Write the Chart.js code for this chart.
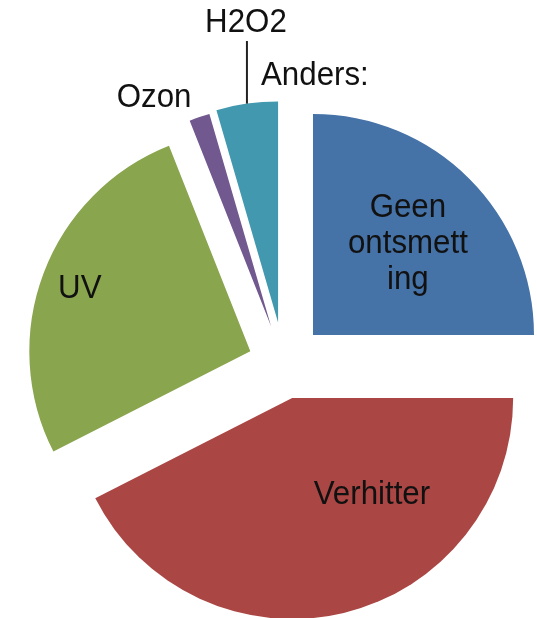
<!DOCTYPE html>
<html>
<head>
<meta charset="utf-8">
<script src="https://cdn.jsdelivr.net/npm/chart.js@4"></script>
<style>
  html, body { margin: 0; padding: 0; background: #fff; }
  #wrap { width: 537px; height: 618px; position: relative; }
</style>
</head>
<body>
<div id="wrap"><canvas id="pie"></canvas></div>
<script>
// slices, clockwise from 12 o'clock
const CATEGORIES = ['Geen ontsmetting', 'Verhitter', 'UV', 'Ozon', 'H2O2', 'Anders:'];
const SHARES = [25, 42.5, 26.5, 1.5, 4.5, 0];
const LABEL_LINES = [['Geen', 'ontsmett', 'ing'], ['Verhitter'], ['UV'], ['Ozon'], ['H2O2'], ['Anders:']];

const COLORS = ['#4572A7', '#AA4643', '#89A54E', '#71588F', '#4198AF', '#DB843D'];
// how far each slice is pulled out (px)
const EXPLODE = [41, 35, 36, 40, 42, 0];
// label placement: degrees away from the slice middle, fraction of radius
const LABEL_PLACE = [
  { da: 0.9, r: 0.598 },
  { da: -26.2, r: 0.565 },
  { da: -0.3, r: 0.823 },
  { da: -8.1, r: 1.166 },
  { da: 2.0, r: 1.367 },
  { da: 6.1, r: 1.315 },
];
const LEADER = 4; // H2O2 gets a leader line

const explodePlugin = {
  id: 'explode',
  beforeDatasetsDraw(chart) {
    const a = chart.chartArea;
    const cx = (a.left + a.right) / 2, cy = (a.top + a.bottom) / 2;
    chart.getDatasetMeta(0).data.forEach((arc, i) => {
      const mid = (arc.startAngle + arc.endAngle) / 2;
      arc.x = cx + Math.cos(mid) * EXPLODE[i];
      arc.y = cy + Math.sin(mid) * EXPLODE[i];
    });
  },
};

const labelPlugin = {
  id: 'sliceLabels',
  afterDatasetsDraw(chart) {
    const ctx = chart.ctx;
    ctx.save();
    ctx.font = '34px "Liberation Sans", Arial, sans-serif';
    ctx.fillStyle = '#111';
    ctx.textAlign = 'center';
    ctx.textBaseline = 'middle';
    const lh = 36;
    chart.getDatasetMeta(0).data.forEach((arc, i) => {
      const mid = (arc.startAngle + arc.endAngle) / 2;
      const p = LABEL_PLACE[i];
      const ang = mid + p.da * Math.PI / 180;
      const d = p.r * arc.outerRadius;
      const x = arc.x + Math.cos(ang) * d;
      const y = arc.y + Math.sin(ang) * d + 1;
      const lines = LABEL_LINES[i];
      lines.forEach((t, k) => {
        ctx.save();
        ctx.translate(x, y + (k - (lines.length - 1) / 2) * lh);
        ctx.scale(0.92, 1);
        ctx.fillText(t, 0, 0);
        ctx.restore();
      });
      if (i === LEADER) {
        const ex = arc.x + Math.cos(mid) * arc.outerRadius;
        const ey = arc.y + Math.sin(mid) * arc.outerRadius;
        ctx.strokeStyle = '#222';
        ctx.lineWidth = 2;
        ctx.beginPath();
        ctx.moveTo(ex, ey);
        ctx.lineTo(ex, y + 18);
        ctx.stroke();
      }
    });
    ctx.restore();
  },
};

new Chart(document.getElementById('pie'), {
  type: 'pie',
  data: {
    labels: CATEGORIES,
    datasets: [{
      data: SHARES,
      backgroundColor: COLORS,
      borderWidth: 0,
      offset: 0,
    }],
  },
  options: {
    responsive: true,
    maintainAspectRatio: false,
    animation: false,
    radius: 221,
    layout: { padding: { left: 31, right: 0, top: 110, bottom: 0 } },
    plugins: {
      legend: { display: false },
      tooltip: { enabled: false },
    },
  },
  plugins: [explodePlugin, labelPlugin],
});
</script>
</body>
</html>
